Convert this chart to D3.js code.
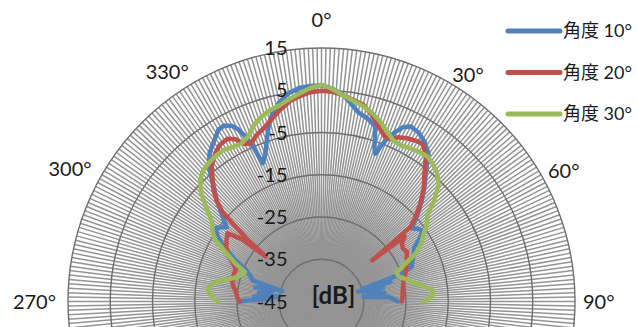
<!DOCTYPE html>
<html>
<head>
<meta charset="utf-8">
<script src="https://cdn.jsdelivr.net/npm/d3@7"></script>
<style>
  html, body { margin: 0; padding: 0; background: #fff; overflow: hidden; }
  text { font-family: Lato, "Noto Sans CJK JP", sans-serif; fill: #1a1a1a; }
</style>
</head>
<body>
<svg id="chart" width="638" height="327"></svg>
<script>
// radial axis ticks (dB) and angle labels
const dbTicks = [-45, -35, -25, -15, -5, 5, 15];
const angleLabels = [0, 30, 60, 90, 270, 300, 330];
const seriesNames = ['角度 10°', '角度 20°', '角度 30°'];
const seriesColors = ['#4f81bd', '#c0504d', '#9bbb59'];

// [angle in degrees (negative = 270..359), level in dB]
const deg10 = [
  [-90, -25.6], [-89, -28], [-87, -33], [-86, -29], [-84, -35], [-82, -30], [-80, -33],
  [-78, -29], [-76, -31.5], [-75, -35.4], [-73, -28], [-70, -27], [-67, -25.5], [-64, -22],
  [-61, -19], [-58, -16], [-55, -14.5], [-52, -16.5], [-49, -13.8], [-46, -10.6], [-43, -7.5],
  [-40, -3.5], [-37, -1], [-34, 0.6], [-31, 2.4], [-29, 2.6], [-27, 1.6], [-26, 0.5],
  [-25, -1.5], [-24, -4], [-23, -9.4], [-21, -7.8], [-19, -5.1], [-17, -2], [-15, 0.6],
  [-12, 3.2], [-9, 4.9], [-6, 5.8], [-3, 6.1], [0, 6.2], [3, 5.4], [6, 4.2], [9, 2],
  [11, 0.6], [14, -0.3], [17, -1.6], [18, -4], [19, -6.5], [20, -7.8], [21, -5.5], [22, -3.3],
  [23.5, -1.3], [25, 0.5], [27, 1.5], [30, 1.1], [33, -0.1], [36, -1.9], [39, -5.8],
  [42, -8.6], [45, -11.5], [48, -14.5], [51, -17.5], [53, -16.4], [55, -15.8], [57, -17.2],
  [60, -19.7], [63, -20.5], [66, -21.5], [69, -22.1], [71, -26], [72, -31.6], [73, -34.8],
  [74, -28], [75, -36], [77, -30], [79, -34], [80, -33], [82, -30], [84, -35], [86, -29.2],
  [88, -28], [90, -26.9]
];
const deg20 = [
  [-90, -25.6], [-87, -25], [-84, -24.7], [-81, -24], [-78, -23.4], [-75, -23.3], [-72, -23.3],
  [-69, -23.3], [-66, -21.8], [-63, -20], [-60, -19], [-57, -18.2], [-54, -17.5], [-52, -21],
  [-51, -28], [-50, -22], [-48, -13.5], [-46, -10.4], [-44, -8.2], [-42, -6.5], [-39, -3.7],
  [-36, -2], [-33, -0.8], [-30, -0.5], [-28, -1.5], [-26, -3.5], [-24, -4], [-21, -2.6],
  [-18, -1.6], [-15, -0.1], [-12, 1.5], [-9, 3], [-6, 3.9], [-3, 4.6], [0, 4.9], [3, 4.7],
  [6, 4.1], [9, 3.3], [12, 2.6], [15, 0.8], [18, -1.4], [21, -3.2], [23, -3.3], [25, -2.1],
  [28, -1.3], [31, -0.8], [33, -0.8], [36, -3], [39, -6.3], [42, -8.8], [45, -11.8],
  [48, -15], [50, -17.5], [51, -29.5], [52, -20], [54, -21.5], [57, -22], [60, -21.6],
  [63, -22.4], [66, -22.7], [69, -23.5], [72, -24.2], [75, -24.8], [78, -25.2], [81, -25.5],
  [84, -25.7], [87, -25.8], [90, -26]
];
const deg30 = [
  [-90, -20.5], [-87, -18.8], [-84, -17.9], [-81, -18.6], [-78, -21], [-75, -23.5], [-72, -25],
  [-69, -25.6], [-66, -22.5], [-63, -19.8], [-60, -16], [-57, -14.2], [-54, -13], [-51, -10],
  [-48, -6.7], [-45, -4.4], [-42, -3.2], [-39, -2.7], [-36, -2.4], [-33, -2.3], [-30, -2.8],
  [-27, -3.1], [-24, -2.3], [-21, -0.3], [-18, 1.0], [-15, 1.9], [-12, 2.5], [-9, 3.5],
  [-6, 4.5], [-3, 5.6], [0, 6.3], [3, 5.3], [6, 4.1], [9, 3.1], [12, 2.3], [15, 1.2],
  [18, -0.2], [21, -1.8], [24, -3.3], [27, -3.5], [30, -3.1], [33, -2.7], [36, -2.5],
  [39, -3.1], [42, -4.1], [45, -5.8], [48, -9], [51, -12.8], [54, -14.2], [57, -16.3],
  [60, -17.8], [63, -20], [66, -23.5], [69, -26], [72, -25.8], [75, -24.4], [78, -23],
  [81, -21], [84, -18.6], [87, -18.6], [90, -20.8]
];
const allSeries = [deg10, deg20, deg30];

const cx = 321.5, cy = 301.5, R = 253.5;
const svg = d3.select('svg#chart');
const g = svg.append('g').attr('transform', 'translate(' + cx + ',' + cy + ')');

const r = d3.scaleLinear().domain([-45, 15]).range([0, R]);
const toRad = d => d * Math.PI / 180;

// spokes, one per degree
g.append('g')
  .selectAll('line')
  .data(d3.range(360))
  .join('line')
  .attr('x1', 0).attr('y1', 0)
  .attr('x2', d => R * Math.sin(toRad(d)))
  .attr('y2', d => -R * Math.cos(toRad(d)))
  .attr('stroke', '#949494')
  .attr('stroke-width', 1.5);

// rings
g.append('g')
  .selectAll('circle')
  .data(dbTicks.slice(1))
  .join('circle')
  .attr('r', d => r(d))
  .attr('fill', 'none')
  .attr('stroke', '#6e6e6e')
  .attr('stroke-width', 1.4);

// data lines
const line = d3.lineRadial()
  .angle(d => toRad(d[0]))
  .radius(d => r(d[1]));

g.append('g')
  .selectAll('path')
  .data(allSeries)
  .join('path')
  .attr('d', line)
  .attr('fill', 'none')
  .attr('stroke', (d, i) => seriesColors[i])
  .attr('stroke-width', 4.5)
  .attr('stroke-linejoin', 'round')
  .attr('stroke-linecap', 'round');

// dB tick labels
g.append('g')
  .selectAll('text')
  .data(dbTicks)
  .join('text')
  .attr('x', -34)
  .attr('y', d => -r(d))
  .attr('dy', '0.35em')
  .attr('text-anchor', 'end')
  .attr('font-size', 20)
  .text(d => d);

g.append('text')
  .attr('x', 12)
  .attr('y', -6)
  .attr('dy', '0.35em')
  .attr('text-anchor', 'middle')
  .attr('font-size', 24)
  .attr('font-weight', 'bold')
  .text('[dB]');

// angle labels
g.append('g')
  .selectAll('text')
  .data(angleLabels)
  .join('text')
  .attr('x', d => d === 0 ? 0 : (d < 180 ? R + 8 : R + 12) * Math.sin(toRad(d)))
  .attr('y', d => d === 0 ? -(R + 21) : -(d < 180 ? R + 8 : R + 12) * Math.cos(toRad(d)))
  .attr('dy', d => d === 0 ? '0' : '0.35em')
  .attr('text-anchor', d => d === 0 ? 'middle' : (d < 180 ? 'start' : 'end'))
  .attr('font-size', 20)
  .text(d => d + '°');

// legend
const legend = svg.append('g')
  .selectAll('g')
  .data(seriesNames)
  .join('g')
  .attr('transform', (d, i) => 'translate(508,' + (31 + i * 41.5) + ')');

legend.append('line')
  .attr('x1', 0).attr('x2', 52)
  .attr('stroke', (d, i) => seriesColors[i])
  .attr('stroke-width', 5)
  .attr('stroke-linecap', 'round');

legend.append('text')
  .attr('x', 55)
  .attr('dy', '0.35em')
  .attr('font-size', 18)
  .text(d => d);
</script>
</body>
</html>
